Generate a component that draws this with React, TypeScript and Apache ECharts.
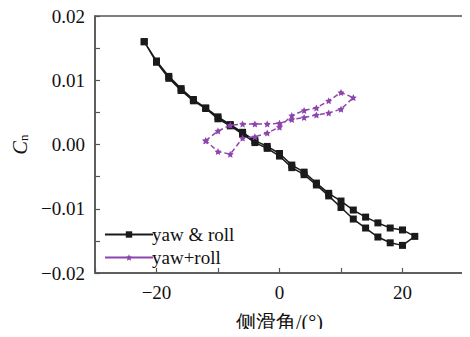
import React, { useEffect, useRef } from "react";
import * as echarts from "echarts";

const legendNames = ["yaw & roll", "yaw+roll"];
const xTicks = [-30, -20, -10, 0, 10, 20, 30];
const yTicks = [-0.02, -0.01, 0, 0.01, 0.02];

const yawRollX = [-22, -20, -18, -16, -14, -12, -10, -8, -6, -4, -2, 0, 2, 4, 6, 8, 10, 12, 14, 16, 18, 20, 22,
  20, 18, 16, 14, 12, 10, 8, 6, 4, 2, 0, -2, -4, -6, -8, -10, -12, -14, -16, -18, -20, -22];
const yawRollY = [0.016, 0.013, 0.0106, 0.0087, 0.007, 0.0057, 0.0043, 0.0031, 0.0019, 0.0006, -0.0003, -0.0014,
  -0.0032, -0.0043, -0.006, -0.0076, -0.0088, -0.0102, -0.0113, -0.0122, -0.013, -0.0133, -0.0143,
  -0.0157, -0.0153, -0.0144, -0.013, -0.0116, -0.0098, -0.008, -0.0063, -0.0047, -0.0036, -0.0018,
  -0.0006, 0.0003, 0.0016, 0.0029, 0.004, 0.0056, 0.0068, 0.0084, 0.0103, 0.0128, 0.016];

const yawPlusRollX = [-12, -10, -8, -6, -4, -2, 0, 2, 4, 6, 8, 10, 12, 10, 8, 6, 4, 2, 0, -2, -4, -6, -8, -10, -12];
const yawPlusRollY = [0.0006, 0.0021, 0.003, 0.0032, 0.0032, 0.0032, 0.0033, 0.0039, 0.0042, 0.0046, 0.0049,
  0.0055, 0.0073, 0.0081, 0.0068, 0.0057, 0.0053, 0.0045, 0.0027, 0.0018, 0.0012, 0.001, -0.0015,
  -0.0011, 0.0006];

const STAR =
  "path://M0,-10L2.9,-4L9.5,-3.1L4.7,1.5L5.9,8.1L0,5L-5.9,8.1L-4.7,1.5L-9.5,-3.1L-2.9,-4Z";

const zip = (xs: number[], ys: number[]) => xs.map((x, i) => [x, ys[i]]);
const fmtNum = (s: string) => s.replace("-", "\u2212");

export default function App() {
  const ref = useRef<HTMLDivElement>(null);
  useEffect(() => {
    if (!ref.current) return;
    const chart = echarts.init(ref.current, undefined, { renderer: "svg" });
    const font = "Liberation Serif";
    const axisColor = "#555";
    chart.setOption({
      animation: false,
      backgroundColor: "#fff",
      textStyle: { fontFamily: font },
      grid: {
        left: 95,
        right: 6,
        top: 16,
        bottom: 60,
        show: true,
        borderColor: axisColor,
        borderWidth: 1.5,
        containLabel: false,
      },
      legend: {
        orient: "vertical",
        left: 99,
        top: 220,
        itemWidth: 48,
        itemHeight: 8,
        itemGap: 4,
        data: legendNames,
        textStyle: { fontFamily: font, fontSize: 19, color: "#111", padding: [0, 0, 0, -6] },
        lineStyle: { type: "solid" },
      },
      xAxis: {
        type: "value",
        min: xTicks[0],
        max: xTicks[xTicks.length - 1],
        interval: 10,
        name: "侧滑角/(°)",
        nameLocation: "middle",
        nameGap: 39,
        nameTextStyle: { fontFamily: font, fontSize: 20, color: "#111" },
        axisLine: { show: true, onZero: false, lineStyle: { color: axisColor, width: 1.5 } },
        axisTick: { show: true, inside: true, length: 5, lineStyle: { color: axisColor, width: 1.2 } },
        splitLine: { show: false },
        axisLabel: {
          fontFamily: font,
          fontSize: 19,
          color: "#111",
          margin: 10,
          formatter: (v: number) => (v % 20 === 0 ? fmtNum(String(v)) : ""),
        },
      },
      yAxis: {
        type: "value",
        min: yTicks[0],
        max: yTicks[yTicks.length - 1],
        interval: 0.005,
        name: "{i|C}{s|n}",
        nameLocation: "middle",
        nameGap: 62,
        nameRotate: 90,
        nameTextStyle: {
          rich: {
            i: { fontFamily: font, fontStyle: "italic", fontSize: 20, color: "#111" },
            s: { fontFamily: font, fontSize: 13, color: "#111", verticalAlign: "bottom", padding: [8, 0, 0, 0] },
          },
        },
        axisLine: { show: true, onZero: false, lineStyle: { color: axisColor, width: 1.5 } },
        axisTick: { show: true, inside: true, length: 5, lineStyle: { color: axisColor, width: 1.2 } },
        splitLine: { show: false },
        axisLabel: {
          fontFamily: font,
          fontSize: 19,
          color: "#111",
          margin: 10,
          formatter: (v: number) => {
            const r = Math.round(v * 1000);
            if (r % 10 !== 0) return "";
            return fmtNum(v.toFixed(2));
          },
        },
      },
      series: [
        {
          name: legendNames[0],
          type: "line",
          data: zip(yawRollX, yawRollY),
          symbol: "rect",
          symbolSize: 7,
          showSymbol: true,
          color: "#1a1a1a",
          lineStyle: { color: "#1a1a1a", width: 1.5 },
          itemStyle: { color: "#1a1a1a" },
          z: 2,
        },
        {
          name: legendNames[1],
          type: "line",
          data: zip(yawPlusRollX, yawPlusRollY),
          symbol: STAR,
          symbolSize: 7,
          showSymbol: true,
          color: "#8d45ad",
          lineStyle: { color: "#8d45ad", width: 1.5, type: [5, 3] },
          itemStyle: { color: "#8d45ad" },
          z: 3,
        },
      ],
    });
    return () => chart.dispose();
  }, []);
  return <div ref={ref} style={{ width: 470, height: 337, margin: -8 }} />;
}
